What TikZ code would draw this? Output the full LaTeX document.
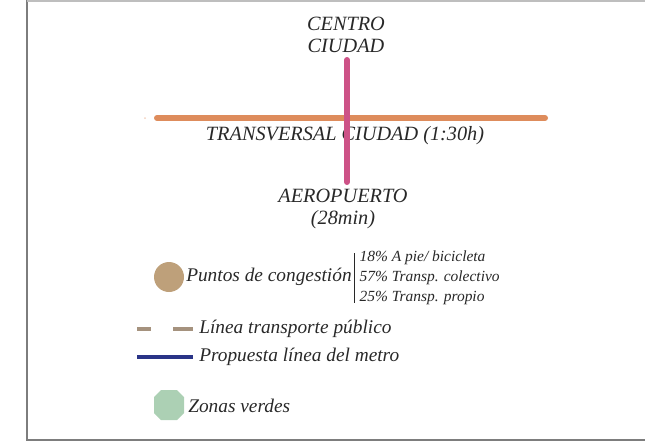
\documentclass[tikz,border=0pt]{standalone}
\usepackage[RGB]{xcolor}
\usepackage{tikz}
\usepackage{fontspec}
\setmainfont{Liberation Serif}
\definecolor{frame}{RGB}{125,125,125}
\definecolor{ink}{RGB}{40,40,40}
\definecolor{transversal}{RGB}{222,140,92}
\definecolor{aeropuerto}{RGB}{205,82,135}
\definecolor{congestion}{RGB}{190,160,122}
\definecolor{publico}{RGB}{165,146,126}
\definecolor{metro}{RGB}{42,52,135}
\definecolor{verde}{RGB}{172,208,180}
\newcommand{\drawroad}{\draw[line width=4.5pt, line cap=round]}
\newcommand{\bigtext}{\fontsize{15.2}{16.5}\selectfont\itshape}
\newcommand{\legtext}{\fontsize{14.5}{15}\selectfont\itshape}
\newcommand{\smalltext}{\fontsize{11.6}{15}\selectfont\itshape}

\begin{document}
\begin{tikzpicture}[x=0.75pt,y=-0.75pt, every node/.style={text=ink, inner sep=0pt}]
\useasboundingbox (0,0) rectangle (645,444);
\draw[frame, line width=1.5pt] (27,-5)--(27,440)--(650,440);
\draw[frame!50, line width=0.8pt] (27,1)--(650,1);
% cruce de lineas
\drawroad[transversal] (157,118)--(545,118);
\fill[transversal!40] (145,118) circle (1);
\node[font=\bigtext, align=center] (centro) at (346,35) {CENTRO\\CIUDAD};
\node[font=\bigtext] (transv) at (345,136) {TRANSVERSAL CIUDAD (1:30h)};
\node[font=\bigtext, align=center] (aero) at (343,209) {AEROPUERTO\\(28min)};
\drawroad[aeropuerto] (347,60)--(347,182);
% leyenda
\fill[congestion] (169,277) circle (15);
\node[font=\legtext, anchor=west] (puntos) at (186,277) {Puntos de congesti\'on};
\node[font=\smalltext, anchor=west, align=left, inner xsep=4pt] (reparto) at (354,278)
  {18\% A pie/ bicicleta\\57\% Transp. colectivo\\25\% Transp. propio};
\draw[ink, line width=0.6pt] ([yshift=-2pt]reparto.north west)--([yshift=2pt]reparto.south west);
\draw[publico, line width=3pt] (137,329)--(151,329) (173,329)--(193,329);
\node[font=\legtext, anchor=west] (publ) at (199,329) {L\'inea transporte p\'ublico};
\draw[metro, line width=3pt] (137,357)--(193,357);
\node[font=\legtext, anchor=west] (metrol) at (199,357) {Propuesta l\'inea del metro};
\fill[verde] (161,390)--(177,390)--(184,397)--(184,413)--(177,420)--(161,420)--(154,413)--(154,397)--cycle;
\node[font=\legtext, anchor=west] (verdes) at (188,406) {Zonas verdes};
\end{tikzpicture}
\end{document}
